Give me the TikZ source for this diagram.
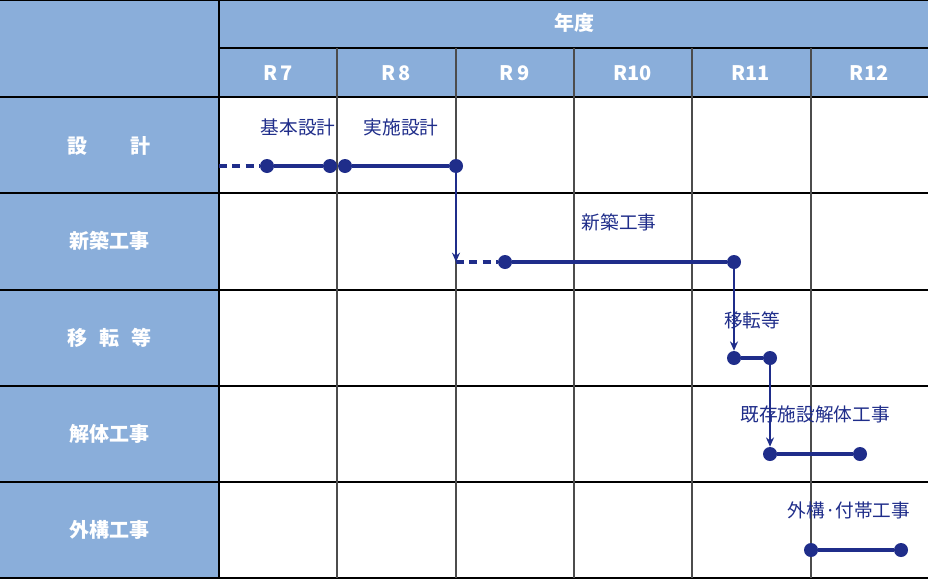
\documentclass[tikz,border=0pt]{standalone}
\usepackage{fontspec}
\newfontfamily\cjk{Noto Sans CJK JP}
\usetikzlibrary{arrows.meta}
\definecolor{hdr}{HTML}{8AAEDA}
\definecolor{navy}{HTML}{1F2D8A}
\begin{document}
\begin{tikzpicture}[x=0.75pt,y=-0.75pt,font=\cjk,
          dot/.style = {circle, fill=navy, inner sep=0pt, minimum size=10.5pt},
          bar/.style = {navy, line width=2.4pt},
          dbar/.style = {bar, dash pattern=on 6pt off 4pt},
          drop/.style = {navy, line width=1.6pt, -{Stealth[length=7pt,width=6pt]}},
          lbl/.style = {text=navy, font=\cjk\fontsize{14}{16}\selectfont},
          head/.style = {text=white, font=\cjk\bfseries\fontsize{15}{17}\selectfont}]
        \useasboundingbox (0,0) rectangle (928,582);
        % header and left column
        \fill[hdr] (0,0) rectangle (928,97);
        \fill[hdr] (0,0) rectangle (219,578);
        \fill[white] (219,97) rectangle (928,578);
        \draw[line width=1pt] (219,48) -- (928,48);
        \foreach \y in {97,193,290,386,482,578}
                 {
                   \draw[line width=1pt] (0,\y) -- (928,\y);
                 }
        \foreach \x in {337,456,574,692,811}
                 {
                   \draw[line width=0.8pt, black!70] (\x,48) -- (\x,578);
                 }
        \draw[line width=1.5pt] (219,0) -- (219,578);
        \draw[line width=1.5pt] (0,0) -- (928,0);
        \node[head] (nendo) at (574,23) {年度};
        \foreach \t [count=\i] in {R\,7,R\,8,R\,9,R10,R11,R12}
                 {
                   \node[head] (r\i) at ({219+118.2*(\i-0.5)},73) {\t};
                 }
        \node[head] (sekkei) at (109,146) {設\hspace{2.2em}計};
        \node[head] (shinchiku) at (109,241) {新築工事};
        \node[head] (iten) at (109,338) {移\hspace{0.6em}転\hspace{0.6em}等};
        \node[head] (kaitai) at (109,434) {解体工事};
        \node[head] (gaiko) at (109,530) {外構工事};
        % schedule
        \coordinate (s0) at (219,166);
        \node[dot] (s1) at (267,166) {};
        \node[dot] (s2) at (330,166) {};
        \node[dot] (s3) at (345,166) {};
        \node[dot] (s4) at (456,166) {};
        \coordinate (n0) at (456,262);
        \node[dot] (n1) at (505,262) {};
        \node[dot] (n2) at (734,262) {};
        \node[dot] (m1) at (734,358) {};
        \node[dot] (m2) at (770,358) {};
        \node[dot] (k1) at (770,454) {};
        \node[dot] (k2) at (860,454) {};
        \node[dot] (g1) at (811,550) {};
        \node[dot] (g2) at (901,550) {};
        \draw[dbar] (s0) -- (s1);
        \draw[bar] (s1) -- (s2);
        \draw[bar] (s3) -- (s4);
        \draw[drop] (s4) -- (n0);
        \draw[dbar] (n0) -- (n1);
        \draw[bar] (n1) -- (n2);
        \draw[drop] (n2) -- (m1);
        \draw[bar] (m1) -- (m2);
        \draw[drop] (m2) -- (k1);
        \draw[bar] (k1) -- (k2);
        \draw[bar] (g1) -- (g2);
        \node[lbl] (kihon) at (298,127) {基本設計};
        \node[lbl] (jisshi) at (401,127) {実施設計};
        \node[lbl] (shin) at (619,222) {新築工事};
        \node[lbl] (iten2) at (752,320) {移転等};
        \node[lbl] (kison) at (815,414) {既存施設解体工事};
        \node[lbl, anchor=west] (fuzoku) at (783,510) {外構·付帯工事};
\end{tikzpicture}
\end{document}
